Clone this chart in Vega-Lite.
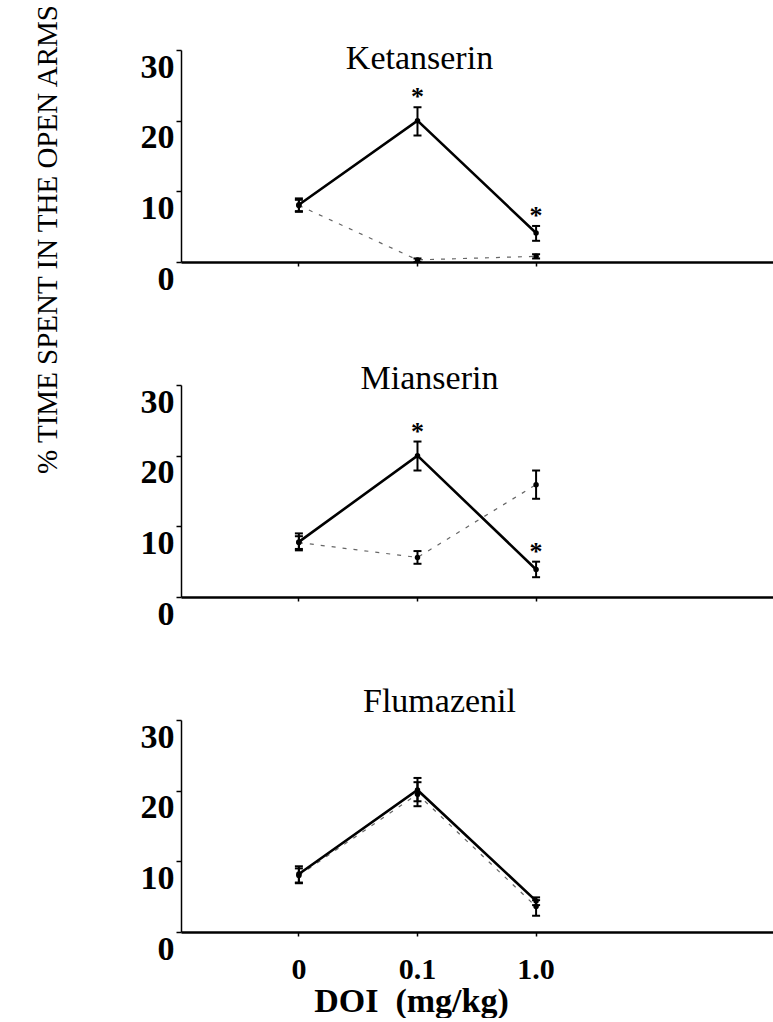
{
  "$schema": "https://vega.github.io/schema/vega-lite/v6.json",
  "background": "white",
  "autosize": {"type": "pad"},
  "padding": {"left": 33, "top": 5, "right": 0, "bottom": 0},
  "config": {
    "font": "Liberation Serif",
    "view": {"stroke": null},
    "axis": {"grid": false, "domainColor": "#000", "tickColor": "#000", "labelColor": "#000", "titleColor": "#000", "labelFont": "Liberation Serif", "titleFont": "Liberation Serif"}
  },
  "title": {"text": "% TIME SPENT IN THE OPEN ARMS", "orient": "left", "anchor": "end", "frame": "group", "fontSize": 29, "fontWeight": "normal", "font": "Liberation Serif", "color": "#000", "offset": 77, "dx": 45},
  "datasets": {
    "obs": [
      {"drug": "Ketanserin", "group": "DOI alone", "dose": "0", "mean": 8.1, "lo": 7.1, "hi": 9.0, "sig": ""},
      {"drug": "Ketanserin", "group": "DOI alone", "dose": "0.1", "mean": 20.0, "lo": 17.9, "hi": 21.9, "sig": "*"},
      {"drug": "Ketanserin", "group": "DOI alone", "dose": "1.0", "mean": 4.1, "lo": 3.0, "hi": 5.1, "sig": "*"},
      {"drug": "Ketanserin", "group": "DOI + antagonist", "dose": "0", "mean": 8.0, "lo": 7.2, "hi": 8.8, "sig": ""},
      {"drug": "Ketanserin", "group": "DOI + antagonist", "dose": "0.1", "mean": 0.3, "lo": 0.0, "hi": 0.5, "sig": ""},
      {"drug": "Ketanserin", "group": "DOI + antagonist", "dose": "1.0", "mean": 0.8, "lo": 0.5, "hi": 1.1, "sig": ""},
      {"drug": "Mianserin", "group": "DOI alone", "dose": "0", "mean": 7.8, "lo": 6.6, "hi": 9.0, "sig": ""},
      {"drug": "Mianserin", "group": "DOI alone", "dose": "0.1", "mean": 20.0, "lo": 17.9, "hi": 22.0, "sig": "*"},
      {"drug": "Mianserin", "group": "DOI alone", "dose": "1.0", "mean": 3.9, "lo": 2.8, "hi": 5.0, "sig": "*"},
      {"drug": "Mianserin", "group": "DOI + antagonist", "dose": "0", "mean": 7.7, "lo": 6.8, "hi": 8.6, "sig": ""},
      {"drug": "Mianserin", "group": "DOI + antagonist", "dose": "0.1", "mean": 5.6, "lo": 4.7, "hi": 6.5, "sig": ""},
      {"drug": "Mianserin", "group": "DOI + antagonist", "dose": "1.0", "mean": 15.9, "lo": 13.9, "hi": 17.9, "sig": ""},
      {"drug": "Flumazenil", "group": "DOI alone", "dose": "0", "mean": 8.2, "lo": 6.9, "hi": 9.3, "sig": ""},
      {"drug": "Flumazenil", "group": "DOI alone", "dose": "0.1", "mean": 20.1, "lo": 18.5, "hi": 21.8, "sig": ""},
      {"drug": "Flumazenil", "group": "DOI alone", "dose": "1.0", "mean": 4.4, "lo": 3.8, "hi": 4.9, "sig": ""},
      {"drug": "Flumazenil", "group": "DOI + antagonist", "dose": "0", "mean": 8.0, "lo": 7.0, "hi": 9.0, "sig": ""},
      {"drug": "Flumazenil", "group": "DOI + antagonist", "dose": "0.1", "mean": 19.5, "lo": 17.8, "hi": 21.2, "sig": ""},
      {"drug": "Flumazenil", "group": "DOI + antagonist", "dose": "1.0", "mean": 3.6, "lo": 2.3, "hi": 4.5, "sig": ""}
    ]
  },
  "bounds": "flush",
  "spacing": 123,
  "vconcat": [
    {
      "width": 593, "height": 212,
      "data": {"name": "obs"},
      "transform": [{"filter": "datum.drug === 'Ketanserin'"}],
      "title": {"text": "Ketanserin", "fontSize": 34, "fontWeight": "normal", "font": "Liberation Serif", "color": "#000", "anchor": "middle", "frame": "group", "dx": -58, "offset": -54, "baseline": "alphabetic"},
      "encoding": {
        "x": {"field": "dose", "type": "ordinal", "title": null, "scale": {"type": "band", "domain": ["0", "0.1", "1.0"], "paddingInner": 0, "paddingOuter": 1, "align": 0.247}, "axis": {"labels": false, "tickSize": 4, "tickWidth": 1.5, "domainWidth": 2.5}}
      },
      "layer": [
        {"transform": [{"filter": "datum.group === 'DOI + antagonist'"}], "mark": {"type": "line", "stroke": "#666", "strokeWidth": 1.2, "strokeDash": [4, 7]}, "encoding": {"y": {"field": "mean", "type": "quantitative", "title": null, "scale": {"domain": [0, 30], "nice": false}, "axis": {"values": [0, 10, 20, 30], "labelFontSize": 34, "labelFontWeight": "bold", "labelBaseline": "top", "labelPadding": 2, "tickSize": 5, "tickWidth": 1.5, "domainWidth": 1.5, "labelFlush": false}}}},
        {"transform": [{"filter": "datum.group === 'DOI alone'"}], "mark": {"type": "line", "stroke": "#000", "strokeWidth": 2.6}, "encoding": {"y": {"field": "mean", "type": "quantitative", "title": null, "scale": {"domain": [0, 30], "nice": false}}}},
        {"mark": {"type": "rule", "stroke": "#000", "strokeWidth": 2}, "encoding": {"y": {"field": "lo", "type": "quantitative", "title": null, "scale": {"domain": [0, 30], "nice": false}}, "y2": {"field": "hi"}}},
        {"mark": {"type": "tick", "orient": "horizontal", "color": "#000", "size": 8, "thickness": 2, "opacity": 1}, "encoding": {"y": {"field": "lo", "type": "quantitative", "title": null, "scale": {"domain": [0, 30], "nice": false}}}},
        {"mark": {"type": "tick", "orient": "horizontal", "color": "#000", "size": 8, "thickness": 2, "opacity": 1}, "encoding": {"y": {"field": "hi", "type": "quantitative", "title": null, "scale": {"domain": [0, 30], "nice": false}}}},
        {"mark": {"type": "point", "filled": true, "color": "#000", "size": 30, "opacity": 1}, "encoding": {"y": {"field": "mean", "type": "quantitative", "title": null, "scale": {"domain": [0, 30], "nice": false}}}},
        {"transform": [{"filter": "datum.sig !== ''"}], "mark": {"type": "text", "fontSize": 26, "fontWeight": "bold", "baseline": "alphabetic", "dy": -2, "color": "#000"}, "encoding": {"y": {"field": "hi", "type": "quantitative", "title": null, "scale": {"domain": [0, 30], "nice": false}}, "text": {"field": "sig"}}}
      ]
    },
    {
      "width": 593, "height": 212,
      "data": {"name": "obs"},
      "transform": [{"filter": "datum.drug === 'Mianserin'"}],
      "title": {"text": "Mianserin", "fontSize": 34, "fontWeight": "normal", "font": "Liberation Serif", "color": "#000", "anchor": "middle", "frame": "group", "dx": -48, "offset": -39, "baseline": "alphabetic"},
      "encoding": {
        "x": {"field": "dose", "type": "ordinal", "title": null, "scale": {"type": "band", "domain": ["0", "0.1", "1.0"], "paddingInner": 0, "paddingOuter": 1, "align": 0.247}, "axis": {"labels": false, "tickSize": 4, "tickWidth": 1.5, "domainWidth": 2.5}}
      },
      "layer": [
        {"transform": [{"filter": "datum.group === 'DOI + antagonist'"}], "mark": {"type": "line", "stroke": "#666", "strokeWidth": 1.2, "strokeDash": [4, 7]}, "encoding": {"y": {"field": "mean", "type": "quantitative", "title": null, "scale": {"domain": [0, 30], "nice": false}, "axis": {"values": [0, 10, 20, 30], "labelFontSize": 34, "labelFontWeight": "bold", "labelBaseline": "top", "labelPadding": 2, "tickSize": 5, "tickWidth": 1.5, "domainWidth": 1.5, "labelFlush": false}}}},
        {"transform": [{"filter": "datum.group === 'DOI alone'"}], "mark": {"type": "line", "stroke": "#000", "strokeWidth": 2.6}, "encoding": {"y": {"field": "mean", "type": "quantitative", "title": null, "scale": {"domain": [0, 30], "nice": false}}}},
        {"mark": {"type": "rule", "stroke": "#000", "strokeWidth": 2}, "encoding": {"y": {"field": "lo", "type": "quantitative", "title": null, "scale": {"domain": [0, 30], "nice": false}}, "y2": {"field": "hi"}}},
        {"mark": {"type": "tick", "orient": "horizontal", "color": "#000", "size": 8, "thickness": 2, "opacity": 1}, "encoding": {"y": {"field": "lo", "type": "quantitative", "title": null, "scale": {"domain": [0, 30], "nice": false}}}},
        {"mark": {"type": "tick", "orient": "horizontal", "color": "#000", "size": 8, "thickness": 2, "opacity": 1}, "encoding": {"y": {"field": "hi", "type": "quantitative", "title": null, "scale": {"domain": [0, 30], "nice": false}}}},
        {"mark": {"type": "point", "filled": true, "color": "#000", "size": 30, "opacity": 1}, "encoding": {"y": {"field": "mean", "type": "quantitative", "title": null, "scale": {"domain": [0, 30], "nice": false}}}},
        {"transform": [{"filter": "datum.sig !== ''"}], "mark": {"type": "text", "fontSize": 26, "fontWeight": "bold", "baseline": "alphabetic", "dy": -2, "color": "#000"}, "encoding": {"y": {"field": "hi", "type": "quantitative", "title": null, "scale": {"domain": [0, 30], "nice": false}}, "text": {"field": "sig"}}}
      ]
    },
    {
      "width": 593, "height": 212,
      "data": {"name": "obs"},
      "transform": [{"filter": "datum.drug === 'Flumazenil'"}],
      "title": {"text": "Flumazenil", "fontSize": 34, "fontWeight": "normal", "font": "Liberation Serif", "color": "#000", "anchor": "middle", "frame": "group", "dx": -38, "offset": -27, "baseline": "alphabetic"},
      "encoding": {
        "x": {"field": "dose", "type": "ordinal", "title": "DOI\u00a0 (mg/kg)", "scale": {"type": "band", "domain": ["0", "0.1", "1.0"], "paddingInner": 0, "paddingOuter": 1, "align": 0.247}, "axis": {"labelAngle": 0, "labelFontSize": 30, "labelFontWeight": "bold", "labelPadding": 18, "tickSize": 4, "tickWidth": 1.5, "domainWidth": 2.5, "titleFontSize": 34, "titleFontWeight": "bold", "titlePadding": 0, "titleX": 230}}
      },
      "layer": [
        {"transform": [{"filter": "datum.group === 'DOI + antagonist'"}], "mark": {"type": "line", "stroke": "#666", "strokeWidth": 1.2, "strokeDash": [4, 7]}, "encoding": {"y": {"field": "mean", "type": "quantitative", "title": null, "scale": {"domain": [0, 30], "nice": false}, "axis": {"values": [0, 10, 20, 30], "labelFontSize": 34, "labelFontWeight": "bold", "labelBaseline": "top", "labelPadding": 2, "tickSize": 5, "tickWidth": 1.5, "domainWidth": 1.5, "labelFlush": false}}}},
        {"transform": [{"filter": "datum.group === 'DOI alone'"}], "mark": {"type": "line", "stroke": "#000", "strokeWidth": 2.6}, "encoding": {"y": {"field": "mean", "type": "quantitative", "title": null, "scale": {"domain": [0, 30], "nice": false}}}},
        {"mark": {"type": "rule", "stroke": "#000", "strokeWidth": 2}, "encoding": {"y": {"field": "lo", "type": "quantitative", "title": null, "scale": {"domain": [0, 30], "nice": false}}, "y2": {"field": "hi"}}},
        {"mark": {"type": "tick", "orient": "horizontal", "color": "#000", "size": 8, "thickness": 2, "opacity": 1}, "encoding": {"y": {"field": "lo", "type": "quantitative", "title": null, "scale": {"domain": [0, 30], "nice": false}}}},
        {"mark": {"type": "tick", "orient": "horizontal", "color": "#000", "size": 8, "thickness": 2, "opacity": 1}, "encoding": {"y": {"field": "hi", "type": "quantitative", "title": null, "scale": {"domain": [0, 30], "nice": false}}}},
        {"mark": {"type": "point", "filled": true, "color": "#000", "size": 30, "opacity": 1}, "encoding": {"y": {"field": "mean", "type": "quantitative", "title": null, "scale": {"domain": [0, 30], "nice": false}}}}
      ]
    }
  ]
}
